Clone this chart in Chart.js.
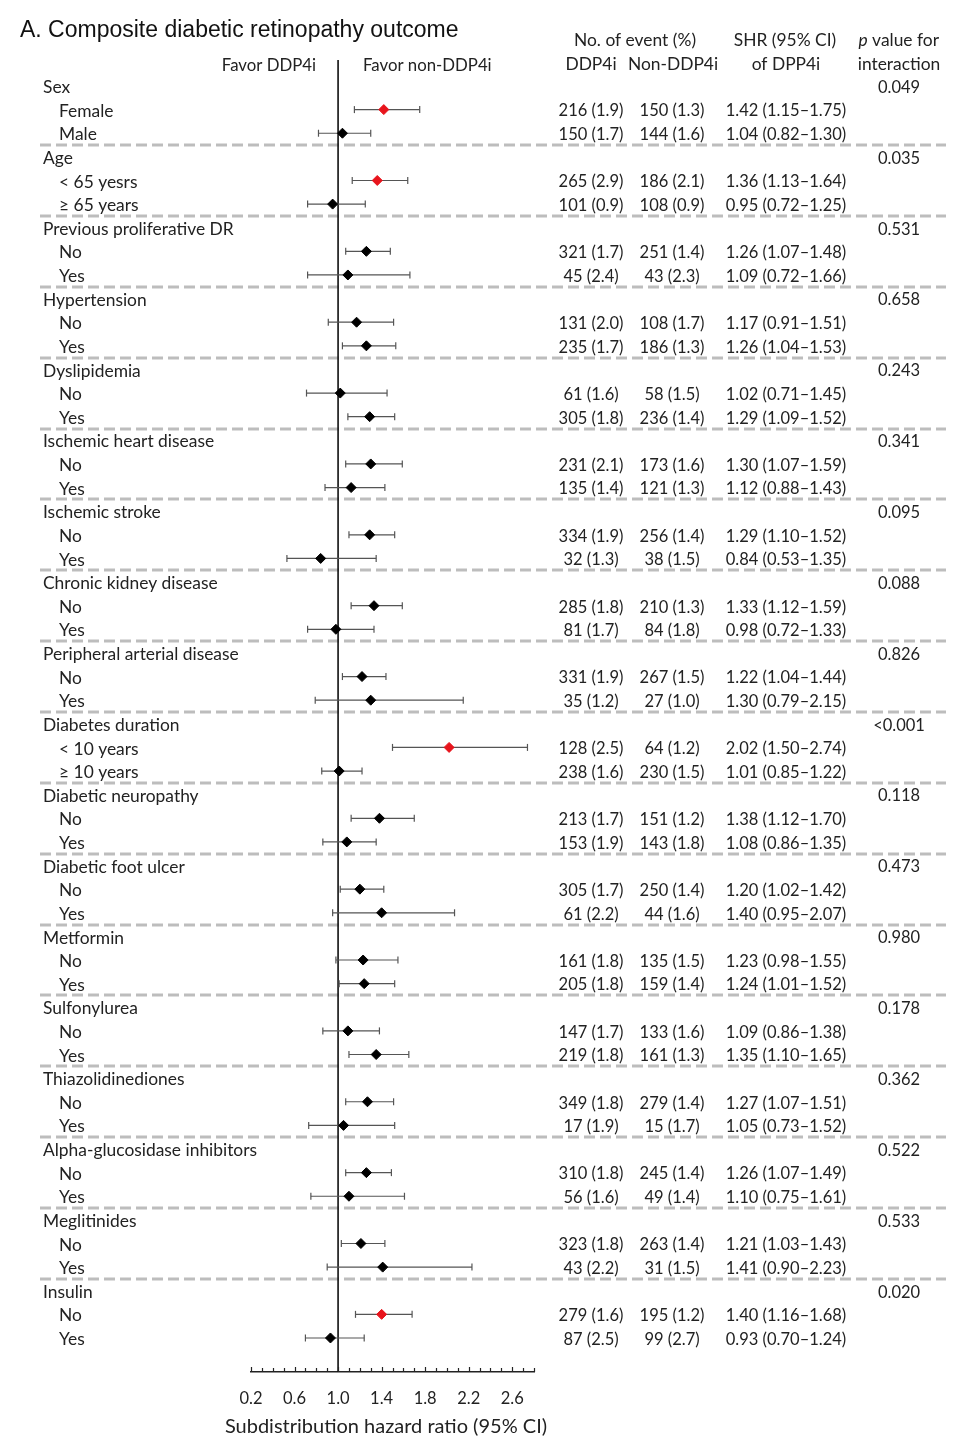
<!DOCTYPE html>
<html>
<head>
<meta charset="utf-8">
<script src="https://cdn.jsdelivr.net/npm/chart.js@4.4.1/dist/chart.umd.min.js"></script>
<style>
  html, body { margin: 0; padding: 0; background: #fff; }
  #wrap { width: 965px; height: 1449px; position: relative; }
</style>
</head>
<body>
<div id="wrap"><canvas id="forest" width="965" height="1449"></canvas></div>
<script>
// ---- data ----
const groupNames = [
  "Sex", "Age", "Previous proliferative DR", "Hypertension", "Dyslipidemia",
  "Ischemic heart disease", "Ischemic stroke", "Chronic kidney disease",
  "Peripheral arterial disease", "Diabetes duration", "Diabetic neuropathy",
  "Diabetic foot ulcer", "Metformin", "Sulfonylurea", "Thiazolidinediones",
  "Alpha-glucosidase inhibitors", "Meglitinides", "Insulin",
];
const pInteraction = [
  "0.049", "0.035", "0.531", "0.658", "0.243", "0.341", "0.095", "0.088", "0.826",
  "<0.001", "0.118", "0.473", "0.980", "0.178", "0.362", "0.522", "0.533", "0.020",
];
// two subgroups per group, in order
const subgroupLabels = [
  "Female", "Male", "< 65 yesrs", "\u2265 65 years", "No", "Yes", "No", "Yes", "No", "Yes",
  "No", "Yes", "No", "Yes", "No", "Yes", "No", "Yes", "< 10 years", "\u2265 10 years",
  "No", "Yes", "No", "Yes", "No", "Yes", "No", "Yes", "No", "Yes", "No", "Yes", "No", "Yes", "No", "Yes",
];
const eventsDdp4i = [
  "216 (1.9)", "150 (1.7)", "265 (2.9)", "101 (0.9)", "321 (1.7)", "45 (2.4)",
  "131 (2.0)", "235 (1.7)", "61 (1.6)", "305 (1.8)", "231 (2.1)", "135 (1.4)",
  "334 (1.9)", "32 (1.3)", "285 (1.8)", "81 (1.7)", "331 (1.9)", "35 (1.2)",
  "128 (2.5)", "238 (1.6)", "213 (1.7)", "153 (1.9)", "305 (1.7)", "61 (2.2)",
  "161 (1.8)", "205 (1.8)", "147 (1.7)", "219 (1.8)", "349 (1.8)", "17 (1.9)",
  "310 (1.8)", "56 (1.6)", "323 (1.8)", "43 (2.2)", "279 (1.6)", "87 (2.5)",
];
const eventsNonDdp4i = [
  "150 (1.3)", "144 (1.6)", "186 (2.1)", "108 (0.9)", "251 (1.4)", "43 (2.3)",
  "108 (1.7)", "186 (1.3)", "58 (1.5)", "236 (1.4)", "173 (1.6)", "121 (1.3)",
  "256 (1.4)", "38 (1.5)", "210 (1.3)", "84 (1.8)", "267 (1.5)", "27 (1.0)",
  "64 (1.2)", "230 (1.5)", "151 (1.2)", "143 (1.8)", "250 (1.4)", "44 (1.6)",
  "135 (1.5)", "159 (1.4)", "133 (1.6)", "161 (1.3)", "279 (1.4)", "15 (1.7)",
  "245 (1.4)", "49 (1.4)", "263 (1.4)", "31 (1.5)", "195 (1.2)", "99 (2.7)",
];
const shrValues = [
  1.42, 1.04, 1.36, 0.95, 1.26, 1.09, 1.17, 1.26, 1.02, 1.29, 1.30, 1.12,
  1.29, 0.84, 1.33, 0.98, 1.22, 1.30, 2.02, 1.01, 1.38, 1.08, 1.20, 1.40,
  1.23, 1.24, 1.09, 1.35, 1.27, 1.05, 1.26, 1.10, 1.21, 1.41, 1.40, 0.93,
];
const ciLower = [
  1.15, 0.82, 1.13, 0.72, 1.07, 0.72, 0.91, 1.04, 0.71, 1.09, 1.07, 0.88,
  1.10, 0.53, 1.12, 0.72, 1.04, 0.79, 1.50, 0.85, 1.12, 0.86, 1.02, 0.95,
  0.98, 1.01, 0.86, 1.10, 1.07, 0.73, 1.07, 0.75, 1.03, 0.90, 1.16, 0.70,
];
const ciUpper = [
  1.75, 1.30, 1.64, 1.25, 1.48, 1.66, 1.51, 1.53, 1.45, 1.52, 1.59, 1.43,
  1.52, 1.35, 1.59, 1.33, 1.44, 2.15, 2.74, 1.22, 1.70, 1.35, 1.42, 2.07,
  1.55, 1.52, 1.38, 1.65, 1.51, 1.52, 1.49, 1.61, 1.43, 2.23, 1.68, 1.24,
];
// subgroups drawn with a red diamond
const highlighted = [
  true, false, true, false, false, false, false, false, false, false, false, false,
  false, false, false, false, false, false, true, false, false, false, false, false,
  false, false, false, false, false, false, false, false, false, false, true, false,
];
const refValue = 1.0;
const xMin = 0.2, xMax = 2.8;
const labelledTicks = ["0.2", "0.6", "1.0", "1.4", "1.8", "2.2", "2.6"];

// ---- layout helpers ----
const yTop = -1.1, yBottom = 54.44;
const rowOf = (k) => 3 * Math.floor(k / 2) + 1 + (k % 2);
const fmt = (v) => v.toFixed(2);
const LABEL = "17.4px Lato";
const NUM = "16.5px Lato";
const DY = 1.5; // text sits a touch lower than the row centre

const ciDatasets = shrValues.map((_, k) => ({
  type: "line",
  data: [{ x: ciLower[k], y: rowOf(k) }, { x: ciUpper[k], y: rowOf(k) }],
  borderColor: "#555",
  borderWidth: 1.2,
  pointStyle: "line",
  pointRotation: 90,
  pointRadius: 3.5,
  pointBorderColor: "#555",
  pointBorderWidth: 1.2,
  order: 2,
}));

const tablePlugin = {
  id: "forestTable",
  beforeDatasetsDraw(chart) {
    const { ctx } = chart;
    const y = chart.scales.y;
    ctx.save();
    ctx.strokeStyle = "#bdbdbd";
    ctx.lineWidth = 3;
    ctx.setLineDash([11, 5]);
    for (let g = 0; g < groupNames.length - 1; g++) {
      const py = Math.round(y.getPixelForValue(3 * g + 2.5));
      ctx.beginPath();
      ctx.moveTo(40, py);
      ctx.lineTo(946, py);
      ctx.stroke();
    }
    ctx.restore();
  },
  afterDraw(chart) {
    const { ctx } = chart;
    const x = chart.scales.x;
    const y = chart.scales.y;
    ctx.save();
    ctx.textBaseline = "middle";

    // title
    ctx.font = "23px 'Liberation Sans'";
    ctx.fillStyle = "#111";
    ctx.textAlign = "left";
    ctx.fillText("A. Composite diabetic retinopathy outcome", 20, 31);

    // column headers
    ctx.font = LABEL;
    ctx.fillStyle = "#222";
    ctx.textAlign = "center";
    ctx.fillText("No. of event (%)", 635, 40);
    ctx.fillText("DDP4i", 591, 64);
    ctx.fillText("Non-DDP4i", 673, 64);
    ctx.fillText("SHR (95% CI)", 785, 40);
    ctx.fillText("of DPP4i", 786, 64);
    ctx.fillText("interaction", 899, 64);
    const pw = ctx.measureText("p value for").width;
    ctx.textAlign = "left";
    ctx.font = "italic " + LABEL;
    ctx.fillText("p", 899 - pw / 2, 40);
    const pOnly = ctx.measureText("p").width;
    ctx.font = LABEL;
    ctx.fillText(" value for", 899 - pw / 2 + pOnly, 40);

    ctx.font = "16.8px Lato";
    ctx.textAlign = "right";
    ctx.fillText("Favor DDP4i", 316, 66);
    ctx.textAlign = "left";
    ctx.fillText("Favor non-DDP4i", 363, 66);

    // group rows
    groupNames.forEach((name, g) => {
      const py = y.getPixelForValue(3 * g) + DY;
      ctx.font = LABEL;
      ctx.textAlign = "left";
      ctx.fillText(name, 43, py);
      ctx.font = NUM;
      ctx.textAlign = "center";
      ctx.fillText(pInteraction[g], 899, py);
    });

    // subgroup rows
    subgroupLabels.forEach((lab, k) => {
      const py = y.getPixelForValue(rowOf(k)) + DY;
      ctx.font = LABEL;
      ctx.textAlign = "left";
      ctx.fillText(lab, 59, py);
      ctx.font = NUM;
      ctx.textAlign = "center";
      ctx.fillText(eventsDdp4i[k], 591, py);
      ctx.fillText(eventsNonDdp4i[k], 672, py);
      ctx.fillText(`${fmt(shrValues[k])} (${fmt(ciLower[k])}\u2013${fmt(ciUpper[k])})`, 786, py);
    });

    // upward tick marks on the x axis
    ctx.strokeStyle = "#222";
    ctx.lineWidth = 1.2;
    const axisY = x.top;
    x.ticks.forEach((t) => {
      const px = Math.round(x.getPixelForValue(t.value)) + 0.5;
      const major = labelledTicks.includes(t.value.toFixed(1));
      ctx.beginPath();
      ctx.moveTo(px, axisY);
      ctx.lineTo(px, axisY - (major ? 5 : 4));
      ctx.stroke();
    });

    // axis title
    ctx.font = "20px Lato";
    ctx.textAlign = "center";
    ctx.fillText("Subdistribution hazard ratio (95% CI)", 386, 1427);
    ctx.restore();
  },
};

new Chart(document.getElementById("forest"), {
  data: {
    datasets: [
      {
        type: "line",
        data: [{ x: refValue, y: yTop }, { x: refValue, y: yBottom }],
        borderColor: "#111",
        borderWidth: 1.6,
        pointRadius: 0,
        order: 3,
      },
      ...ciDatasets,
      {
        type: "scatter",
        data: shrValues.map((v, k) => ({ x: v, y: rowOf(k) })),
        pointStyle: "rectRot",
        pointRadius: 5,
        pointBackgroundColor: highlighted.map((h) => (h ? "#e8141c" : "#000")),
        pointBorderColor: highlighted.map((h) => (h ? "#e8141c" : "#000")),
        pointBorderWidth: 1,
        order: 1,
      },
    ],
  },
  options: {
    responsive: false,
    animation: false,
    devicePixelRatio: 1,
    layout: { padding: { left: 251, right: 431, top: 60, bottom: 0 } },
    plugins: { legend: { display: false }, tooltip: { enabled: false } },
    scales: {
      x: {
        type: "linear",
        position: "bottom",
        min: xMin,
        max: xMax,
        afterFit: (scale) => { scale.height = 77; },
        grid: { display: false, drawTicks: false },
        border: { display: true, color: "#222", width: 1.5 },
        ticks: {
          stepSize: 0.1,
          autoSkip: false,
          maxRotation: 0,
          padding: 17,
          color: "#222",
          font: { family: "Lato", size: 16.5 },
          callback: (v) => (labelledTicks.includes(Number(v).toFixed(1)) ? Number(v).toFixed(1) : ""),
        },
      },
      y: {
        type: "linear",
        min: yTop,
        max: yBottom,
        reverse: true,
        display: false,
      },
    },
  },
  plugins: [tablePlugin],
});
</script>
</body>
</html>
